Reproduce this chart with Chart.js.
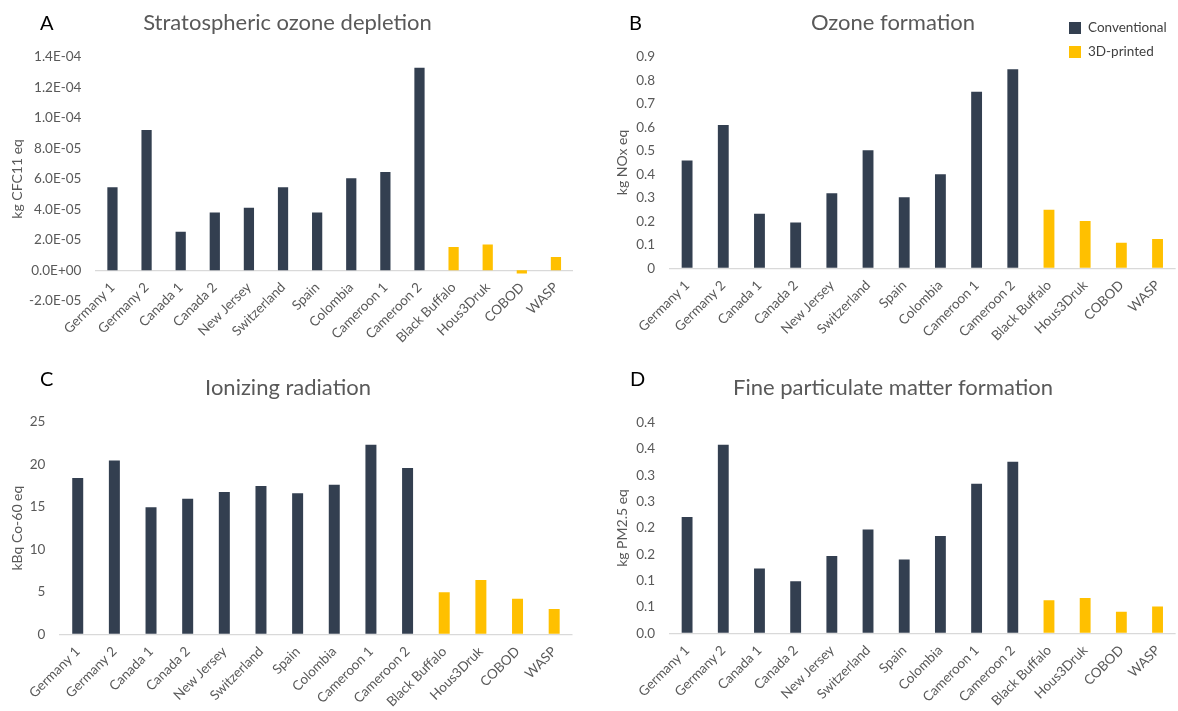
<!DOCTYPE html>
<html>
<head>
<meta charset="utf-8">
<title>LCA comparison charts</title>
<script src="https://cdn.jsdelivr.net/npm/chart.js@4.4.1/dist/chart.umd.min.js"></script>
<style>
  body { margin: 0; background: #fff; }
  canvas.panel { position: absolute; }
</style>
</head>
<body>
<canvas id="chartA" class="panel" width="590" height="355" style="left:0;top:0"></canvas>
<canvas id="chartB" class="panel" width="588" height="355" style="left:590px;top:0"></canvas>
<canvas id="chartC" class="panel" width="590" height="356" style="left:0;top:355px"></canvas>
<canvas id="chartD" class="panel" width="588" height="356" style="left:590px;top:355px"></canvas>
<script>
// categories: 10 conventional houses, then 4 3D-printed ones
const categories = ['Germany 1', 'Germany 2', 'Canada 1', 'Canada 2', 'New Jersey', 'Switzerland',
    'Spain', 'Colombia', 'Cameroon 1', 'Cameroon 2', 'Black Buffalo', 'Hous3Druk', 'COBOD', 'WASP'];
const seriesNames = ['Conventional', '3D-printed'];

// A - stratospheric ozone depletion (kg CFC11 eq)
const ozoneDepletionConv = [5.46e-5, 9.21e-5, 2.53e-5, 3.79e-5, 4.11e-5, 5.46e-5, 3.79e-5, 6.04e-5, 6.46e-5, 1.33e-4];
const ozoneDepletion3D = [1.53e-5, 1.69e-5, -2.1e-6, 8.8e-6];
const ozoneDepletionTicks = ['-2.0E-05', '0.0E+00', '2.0E-05', '4.0E-05', '6.0E-05', '8.0E-05', '1.0E-04', '1.2E-04', '1.4E-04'];

// B - ozone formation (kg NOx eq)
const ozoneFormationConv = [0.458, 0.609, 0.232, 0.195, 0.319, 0.502, 0.302, 0.400, 0.751, 0.847];
const ozoneFormation3D = [0.249, 0.201, 0.109, 0.125];
const ozoneFormationTicks = ['0', '0.1', '0.2', '0.3', '0.4', '0.5', '0.6', '0.7', '0.8', '0.9'];

// C - ionizing radiation (kBq Co-60 eq)
const radiationConv = [18.4, 20.45, 14.95, 15.95, 16.75, 17.45, 16.6, 17.6, 22.3, 19.55];
const radiation3D = [4.95, 6.4, 4.2, 3.0];
const radiationTicks = ['0', '5', '10', '15', '20', '25'];

// D - fine particulate matter formation (kg PM2.5 eq)
const particulateConv = [0.221, 0.358, 0.123, 0.099, 0.147, 0.197, 0.140, 0.185, 0.284, 0.326];
const particulate3D = [0.063, 0.067, 0.041, 0.051];
const particulateTicks = ['0.0', '0.1', '0.1', '0.2', '0.2', '0.3', '0.3', '0.4', '0.4'];

const navy = '#333f50';
const gold = '#ffc000';
const grey = '#595959';
const FONT = 'Lato';

// letters, titles and the legend are drawn on top of each chart
const panelText = {
    id: 'panelText',
    afterDraw(chart, args, opts) {
        const ctx = chart.ctx;
        ctx.save();
        ctx.textBaseline = 'middle';
        ctx.textAlign = 'left';
        ctx.fillStyle = '#000';
        ctx.font = '20px ' + FONT;
        ctx.fillText(opts.letter, opts.letterX, opts.letterY);
        ctx.textAlign = 'center';
        ctx.fillStyle = grey;
        ctx.font = opts.titleSize + 'px ' + FONT;
        ctx.fillText(opts.title, opts.titleX, opts.titleY);
        if (opts.legend) {
            ctx.textAlign = 'left';
            ctx.font = '13.5px ' + FONT;
            chart.data.datasets.forEach(function(ds, i) {
                const y = opts.legendY + i * 24;
                ctx.fillStyle = ds.backgroundColor;
                ctx.fillRect(opts.legendX, y - 6, 12, 12);
                ctx.fillStyle = '#404040';
                ctx.fillText(ds.label, opts.legendX + 19, y);
            });
        }
        ctx.restore();
    }
};

function makeChart(id, conv, printed, p) {
    return new Chart(document.getElementById(id), {
        type: 'bar',
        data: {
            labels: categories,
            datasets: [{
                label: seriesNames[0],
                data: conv.concat(printed.map(() => null)),
                backgroundColor: navy
            },
            {
                label: seriesNames[1],
                data: conv.map(() => null).concat(printed),
                backgroundColor: gold
            }]
        },
        options: {
            responsive: false,
            animation: false,
            events: [],
            datasets: {
                bar: { grouped: false, barPercentage: 1, categoryPercentage: 0.3 }
            },
            layout: { padding: { left: 0, top: p.top, right: p.right, bottom: p.bottom } },
            plugins: {
                legend: { display: false },
                tooltip: { enabled: false },
                title: { display: false },
                panelText: p.text
            },
            scales: {
                x: {
                    // category labels hang from the zero line, like Excel's "next to axis"
                    position: { y: 0 },
                    grid: { display: false, drawTicks: false },
                    border: { display: false },
                    ticks: {
                        autoSkip: false, maxRotation: 45, minRotation: 45,
                        padding: 9, color: grey,
                        font: { family: FONT, size: 13.5 }
                    }
                },
                y: {
                    min: p.min, max: p.max,
                    grid: {
                        drawTicks: false,
                        color: (c) => Math.abs(c.tick.value) < 1e-12 ? '#d9d9d9' : 'rgba(0,0,0,0)',
                        lineWidth: 1.3
                    },
                    border: { display: false },
                    ticks: {
                        stepSize: p.step, padding: 14, color: grey,
                        font: { family: FONT, size: 13.5 },
                        callback: (v, i) => p.tickLabels[i]
                    },
                    title: {
                        display: true, text: p.yTitle, color: grey,
                        font: { family: FONT, size: 14 },
                        padding: { top: p.yTitlePad, bottom: 0 }
                    },
                    afterFit: function(scale) { scale.width = p.yWidth; }
                }
            }
        },
        plugins: [panelText]
    });
}

makeChart('chartA', ozoneDepletionConv, ozoneDepletion3D, {
    top: 57, right: 17, bottom: 54.2, yWidth: 95.4,
    min: -2e-5, max: 1.4e-4, step: 2e-5, tickLabels: ozoneDepletionTicks,
    yTitle: 'kg CFC11 eq', yTitlePad: 8.6,
    text: { letter: 'A', letterX: 40, letterY: 24, title: 'Stratospheric ozone depletion',
        titleX: 287.5, titleY: 23, titleSize: 22 }
});

makeChart('chartB', ozoneFormationConv, ozoneFormation3D, {
    top: 56.7, right: 0, bottom: 86.7, yWidth: 79,
    min: 0, max: 0.9, step: 0.1, tickLabels: ozoneFormationTicks,
    yTitle: 'kg NOx eq', yTitlePad: 23.6,
    text: { letter: 'B', letterX: 39, letterY: 24, title: 'Ozone formation',
        titleX: 303, titleY: 23, titleSize: 22, legend: true, legendX: 479, legendY: 28 }
});

makeChart('chartC', radiationConv, radiation3D, {
    top: 66.7, right: 17.5, bottom: 76.5, yWidth: 59.4,
    min: 0, max: 25, step: 5, tickLabels: radiationTicks,
    yTitle: 'kBq Co-60 eq', yTitlePad: 8.6,
    text: { letter: 'C', letterX: 40, letterY: 25, title: 'Ionizing radiation',
        titleX: 288, titleY: 33, titleSize: 22 }
});

makeChart('chartD', particulateConv, particulate3D, {
    top: 67.7, right: 0, bottom: 77.7, yWidth: 79,
    min: 0, max: 0.4, step: 0.05, tickLabels: particulateTicks,
    yTitle: 'kg PM2.5 eq', yTitlePad: 23.6,
    text: { letter: 'D', letterX: 40, letterY: 25, title: 'Fine particulate matter formation',
        titleX: 303, titleY: 33, titleSize: 22 }
});
</script>
</body>
</html>
